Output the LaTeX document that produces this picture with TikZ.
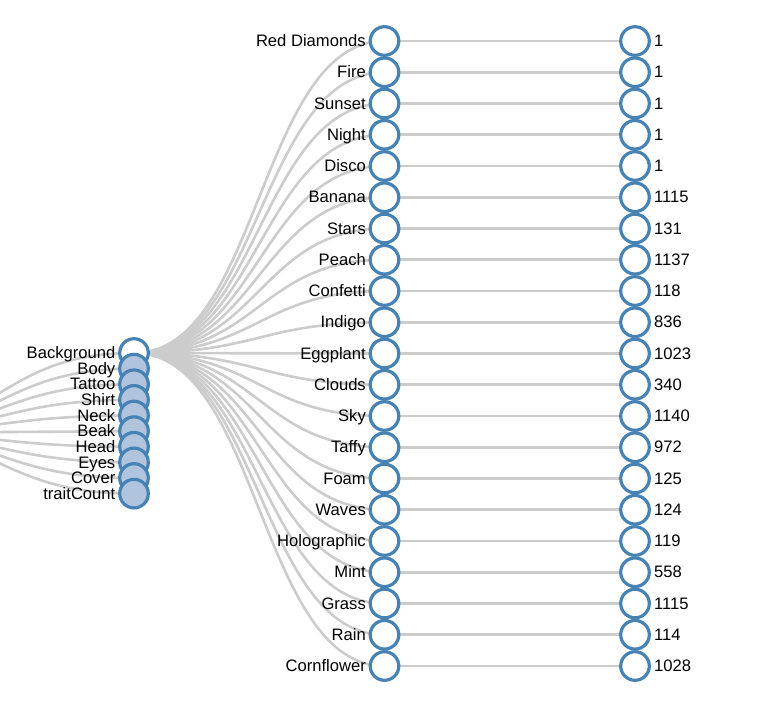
\documentclass[tikz,border=0pt]{standalone}
\usepackage{fontspec}
\setmainfont{Liberation Sans}
\pgfdeclarelayer{bg}
\pgfsetlayers{bg,main}
\definecolor{steel}{HTML}{4682B4}
\definecolor{lsteel}{HTML}{B0C4DE}
\definecolor{linkc}{HTML}{CCCCCC}
\begin{document}
\begin{tikzpicture}[x=1pt,y=-1pt,
  dot/.style={circle,draw=steel,line width=3.2pt,minimum size=28.6pt,inner sep=0pt,fill=white},
  closed/.style={dot,fill=lsteel},
  link/.style={draw=linkc,line width=2.6pt},
  lab/.style={font=\fontsize{16.6}{19}\selectfont,text=black,inner sep=0pt},
  labL/.style={lab,anchor=base east,xshift=-18.5pt,yshift=-5.7pt},
  labR/.style={lab,anchor=base west,xshift=19pt,yshift=-5.7pt}]
\useasboundingbox (0,0) rectangle (784,721);
\clip (0,0) rectangle (784,721);
\coordinate (root) at (-135,433);
% left column
\node[dot] (l0) at (134,353) {};
\node[labL] (tl0) at (l0) {Background};
\foreach \n [count=\i from 1] in {Body,Tattoo,Shirt,Neck,Beak,Head,Eyes,Cover,traitCount}{
  \node[closed] (l\i) at (134,353+15.625*\i) {};
  \node[labL] (tl\i) at (l\i) {\n};
}
% middle and right columns
\foreach \n/\v [count=\i from 0] in {Red Diamonds/1,Fire/1,Sunset/1,Night/1,Disco/1,Banana/1115,Stars/131,Peach/1137,Confetti/118,Indigo/836,Eggplant/1023,Clouds/340,Sky/1140,Taffy/972,Foam/125,Waves/124,Holographic/119,Mint/558,Grass/1115,Rain/114,Cornflower/1028}{
  \node[dot] (r\i) at (384.5,41+31.25*\i) {};
  \node[labL] (tr\i) at (r\i) {\n};
  \node[dot] (v\i) at (635,41+31.25*\i) {};
  \node[labR] (tv\i) at (v\i) {\v};
}
\begin{pgfonlayer}{bg}
\foreach \i in {0,...,9}{
  \draw[link] (root) .. controls (-0.5,433) and (-0.5,353+15.625*\i) .. (l\i.center);
}
\foreach \i in {0,...,20}{
  \draw[link] (l0.center) .. controls (259.25,353) and (259.25,41+31.25*\i) .. (r\i.center);
  \draw[link] (r\i.center) -- (v\i.center);
}
\end{pgfonlayer}
\end{tikzpicture}
\end{document}
